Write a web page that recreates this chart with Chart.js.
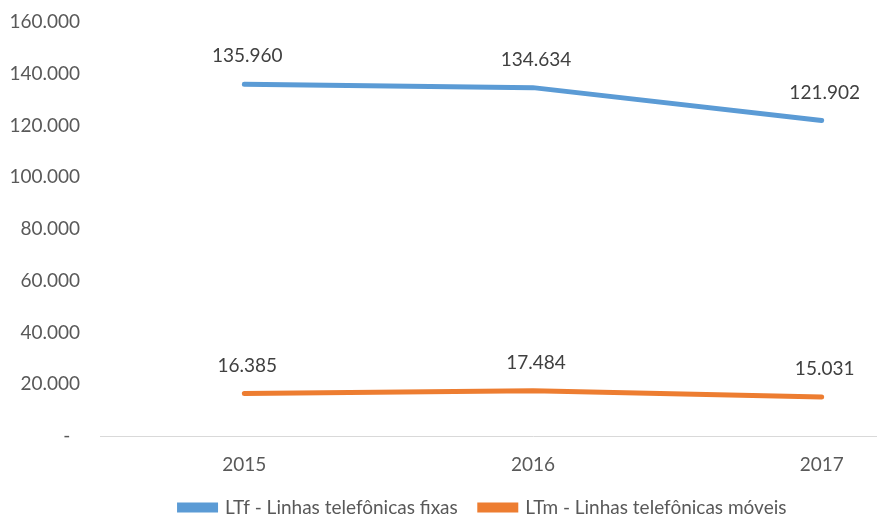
<!DOCTYPE html>
<html>
<head>
<meta charset="utf-8">
<script src="https://cdn.jsdelivr.net/npm/chart.js@4.4.0/dist/chart.umd.min.js"></script>
<style>
  html, body { margin: 0; padding: 0; background: #fff; overflow: hidden; }
  #wrap { width: 990px; height: 527px; }
</style>
</head>
<body>
<div id="wrap"><canvas id="lineChart" width="990" height="527"></canvas></div>
<script>
// chart data
const years = ['2015', '2016', '2017'];
const fixas = [135960, 134634, 121902];
const moveis = [16385, 17484, 15031];
const yTicks = [0, 20000, 40000, 60000, 80000, 100000, 120000, 140000, 160000];

function fmt(v) {
  if (v === 0) return '-  ';
  return v.toLocaleString('pt-BR');
}

// value labels above each point
const pointLabels = {
  id: 'pointLabels',
  afterDatasetsDraw(chart) {
    const ctx = chart.ctx;
    ctx.save();
    ctx.font = '19px Lato, sans-serif';
    ctx.fillStyle = '#404040';
    ctx.textAlign = 'center';
    ctx.textBaseline = 'middle';
    chart.data.datasets.forEach((ds, i) => {
      chart.getDatasetMeta(i).data.forEach((pt, j) => {
        ctx.fillText(fmt(ds.data[j]), pt.x + 3, pt.y - 28);
      });
    });
    ctx.restore();
  }
};

new Chart(document.getElementById('lineChart'), {
  type: 'line',
  data: {
    labels: years,
    datasets: [{
      label: 'LTf - Linhas telefônicas fixas',
      data: fixas,
      borderColor: '#5b9bd5',
      backgroundColor: '#5b9bd5',
      borderWidth: 5,
      borderCapStyle: 'round',
      pointRadius: 0
    }, {
      label: 'LTm - Linhas telefônicas móveis',
      data: moveis,
      borderColor: '#ed7d31',
      backgroundColor: '#ed7d31',
      borderWidth: 5,
      borderCapStyle: 'round',
      pointRadius: 0
    }]
  },
  options: {
    responsive: false,
    animation: false,
    layout: { padding: { top: 0, right: 24, left: 0, bottom: 0 } },
    scales: {
      x: {
        offset: true,
        afterFit: s => { s.height = 40; },
        grid: { display: false, drawTicks: false },
        border: { display: true, color: '#d9d9d9', width: 1 },
        ticks: { color: '#595959', font: { size: 19, family: 'Lato, sans-serif' }, padding: 17 }
      },
      y: {
        min: 0,
        max: 160000,
        afterBuildTicks: s => { s.ticks = yTicks.map(v => ({ value: v })); },
        afterFit: s => {
          s.width = 100;
          s.paddingTop = 22;
          s.paddingBottom = 0;
        },
        grid: { display: false, drawTicks: false },
        border: { display: false },
        ticks: {
          color: '#595959',
          font: { size: 19, family: 'Lato, sans-serif' },
          padding: 20,
          callback: v => fmt(v)
        }
      }
    },
    plugins: {
      legend: {
        position: 'bottom',
        labels: {
          color: '#595959',
          font: { size: 19, family: 'Lato, sans-serif' },
          boxWidth: 36,
          boxHeight: 5,
          padding: 22
        }
      },
      tooltip: { enabled: false }
    }
  },
  plugins: [pointLabels]
});
</script>
</body>
</html>
